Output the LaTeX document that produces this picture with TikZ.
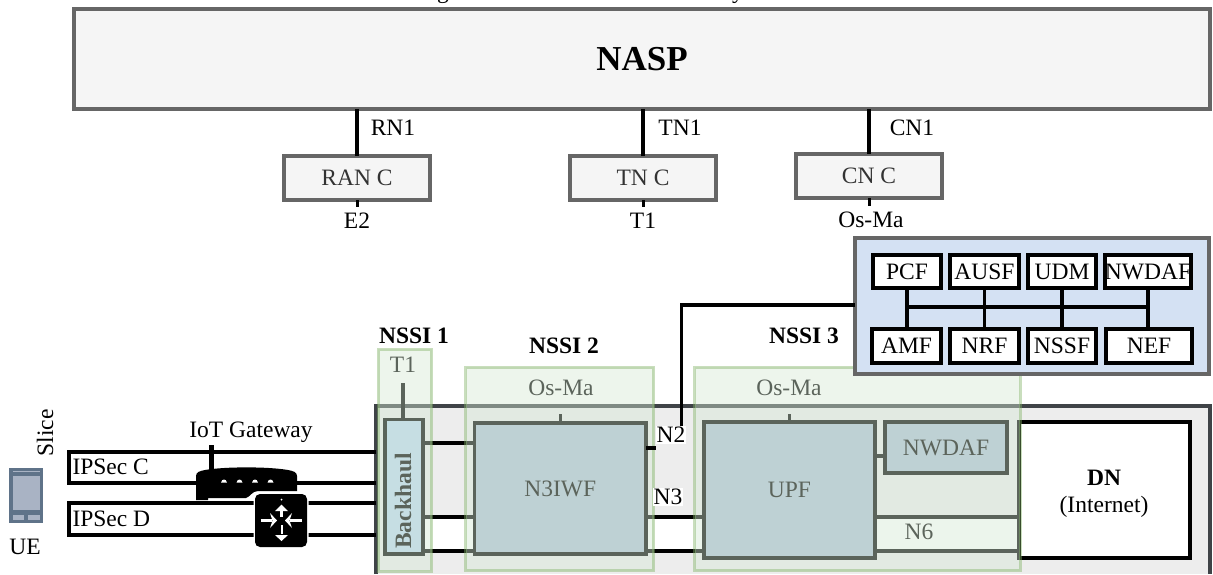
\documentclass[tikz,border=0pt]{standalone}
\usepackage{fontspec}
\setmainfont{Liberation Serif}
\definecolor{strokeg}{HTML}{666666}
\definecolor{fillg}{HTML}{F5F5F5}
\definecolor{textg}{HTML}{333333}
\definecolor{corefill}{HTML}{D4E1F3}
\definecolor{sitefill}{HTML}{EDEDED}
\definecolor{sitestroke}{HTML}{3F4347}
\definecolor{nffill}{HTML}{AEC0D4}
\definecolor{bhfill}{HTML}{BCD8F0}
\definecolor{ovfill}{HTML}{D5E8D4}
\definecolor{ovstroke}{HTML}{82B366}
\definecolor{uedark}{HTML}{5F7389}
\definecolor{uescreen}{HTML}{A9B3C4}
\newcommand{\bx}[7]{%
  \pgfmathsetmacro\cxv{(#3+#5)/2}\pgfmathsetmacro\cyv{(#4+#6)/2}%
  \pgfmathsetmacro\wv{#5-#3}\pgfmathsetmacro\hv{#6-#4}%
  \node[#1,minimum width=\wv pt,minimum height=\hv pt] (#2) at (\cxv,\cyv) {#7};}
\tikzset{
  base/.style={inner sep=0pt,outer sep=0pt,font=\fontsize{23.5}{28}\selectfont},
  lab/.style={base},
  boldlab/.style={base,font=\fontsize{23.5}{28}\selectfont\bfseries},
  mgmt/.style={base,draw=strokeg,fill=fillg,line width=3.6pt,text=textg},
  nf/.style={base,draw=black,fill=white,line width=3.8pt},
  nfwire/.style={draw=black,line width=3.6pt},
  wire/.style={draw=black,line width=3.6pt},
  thinwire/.style={draw=black,line width=3.2pt},
  stub/.style={draw=black,line width=3pt},
  dom/.style={base,draw=black,fill=nffill,line width=3.8pt},
  overlay/.style={base,draw=ovstroke,fill=ovfill,line width=3pt,opacity=.43},
  whitelab/.style={base,fill=white,inner xsep=1pt,inner ysep=1pt}
}
\begin{document}
\begin{tikzpicture}[x=1pt,y=-1pt]
\useasboundingbox (0,0) rectangle (1213,574);
\clip (0,0) rectangle (1213,574);
% clipped caption remains
\node[lab,anchor=base] (capg) at (443,-2) {g};
\node[lab,anchor=base] (capy) at (738,-2) {y};
% NASP and controllers
\bx{mgmt}{nasp}{74}{9}{1210}{109}{\fontsize{35}{40}\selectfont\bfseries\color{black}NASP}
\bx{mgmt}{ran}{284}{156}{430}{200}{RAN C}
\bx{mgmt}{tn}{570}{156}{716}{200}{TN C}
\bx{mgmt}{cn}{796}{154}{942}{198}{CN C}
\draw[thinwire] (nasp.south -| ran.north) -- (ran.north);
\draw[thinwire] (nasp.south -| tn.north) -- (tn.north);
\draw[thinwire] (nasp.south -| cn.north) -- (cn.north);
\coordinate (ranout) at (ran.south |- 0,207);
\coordinate (tnout) at (tn.south |- 0,207);
\coordinate (cnout) at (cn.south |- 0,206);
\draw[stub] (ran.south) -- (ranout);
\draw[stub] (tn.south) -- (tnout);
\draw[stub] (cn.south) -- (cnout);
\node[lab] (rn1) at (393,128) {RN1};
\node[lab] (tn1) at (680,128) {TN1};
\node[lab] (cn1) at (912,128) {CN1};
\node[lab] (e2) at (357,221) {E2};
\node[lab] (t1a) at (643,221) {T1};
\node[lab] (osa) at (871,220) {Os-Ma};
% site box (open at the bottom edge)
\fill[sitefill] (376,406) rectangle (1210,574);
\draw[draw=sitestroke,line width=3.4pt] (376,574) -- (376,406) -- (1210,406) -- (1210,574);
% pipes
\fill[white] (423,517) rectangle (474,551);
\fill[white] (646,517) rectangle (704,551);
\fill[white] (875,517) rectangle (1018,551);
\bx{base,fill=bhfill,draw=black,line width=3.8pt}{bh}{385}{419.5}{423}{554}{}
\node[boldlab,rotate=90] (bhtxt) at (403,501) {Backhaul};
\bx{dom}{n3iwf}{474.5}{423}{646}{554}{N3IWF}
\bx{dom}{upf}{704}{422}{875}{558}{UPF}
\bx{dom}{nwdaf}{885}{422}{1007}{473}{NWDAF}
\bx{base,draw=black,fill=white,line width=3.8pt}{dn}{1019}{422}{1190}{558}{}
\node[boldlab] (dnt) at (1104,478) {DN};
\node[lab] (dni) at (1104,507) {(Internet)};
% links between functions
\draw[wire] (bh.east |- 0,443) -- (n3iwf.west |- 0,443);
\draw[wire] (bh.east |- 0,517) -- (n3iwf.west |- 0,517);
\draw[wire] (bh.east |- 0,551) -- (n3iwf.west |- 0,551);
\draw[wire] (n3iwf.east |- 0,517) -- (upf.west |- 0,517);
\draw[wire] (n3iwf.east |- 0,551) -- (upf.west |- 0,551);
\draw[wire] (upf.east |- 0,517) -- (dn.west |- 0,517);
\draw[wire] (upf.east |- 0,551) -- (dn.west |- 0,551);
\draw[draw=black,line width=4pt] (upf.east |- 0,456) -- (nwdaf.west |- 0,456);
\coordinate (bhup) at (403,383);
\coordinate (n3up) at (560,414);
\coordinate (upfup) at (789,414);
\draw[wire] (bh.north -| bhup) -- (bhup);
\draw[stub] (n3iwf.north -| n3up) -- (n3up);
\draw[stub] (upf.north -| upfup) -- (upfup);
\node[lab] (t1b) at (403,365) {T1};
\node[lab] (os2) at (561,388) {Os-Ma};
\node[lab] (os3) at (789,388) {Os-Ma};
\node[lab] (n6) at (919,532) {N6};
% slice overlays
\bx{overlay}{nssi1}{378}{349}{431.5}{571}{}
\bx{overlay}{nssi2}{465.5}{367}{653.5}{570.5}{}
\bx{overlay}{nssi3}{694.5}{367}{1020}{570.5}{}
\node[boldlab] (n1) at (414,336) {NSSI 1};
\node[boldlab] (n2t) at (564,346) {NSSI 2};
\node[boldlab] (n3t) at (804,336) {NSSI 3};
% N2 / N3 labels
\node[whitelab] (n2lab) at (671,435) {N2};
\node[whitelab] (n3lab) at (668,497) {N3};
\draw[wire] (n3iwf.east |- 0,448) -- (n2lab.west |- 0,448);
% core
\bx{base,draw=strokeg,fill=corefill,line width=3.4pt}{core}{855}{238}{1209}{374}{}
\bx{nf}{pcf}{873}{255}{941}{288}{PCF}
\bx{nf}{ausf}{950}{255}{1019}{288}{AUSF}
\bx{nf}{udm}{1028}{255}{1096}{288}{UDM}
\bx{nf}{nwd}{1105}{255}{1191}{288}{NWDAF}
\bx{nf}{amf}{872}{329}{941}{363}{AMF}
\bx{nf}{nrf}{950}{329}{1019}{363}{NRF}
\bx{nf}{nssf}{1028}{329}{1096}{363}{NSSF}
\bx{nf}{nef}{1106}{329}{1192}{363}{NEF}
\coordinate (busl) at (906.7,307);
\coordinate (busr) at (1148,307);
\draw[nfwire] (busl) -- (busr);
\draw[nfwire] (pcf.south -| busl) -- (amf.north -| busl);
\draw[nfwire] (ausf.south) -- (nrf.north);
\draw[nfwire] (udm.south) -- (nssf.north);
\draw[nfwire] (nwd.south -| busr) -- (nef.north -| busr);
\coordinate (bend) at (681.5,305);
\draw[wire] (core.west |- bend) -- (bend) -- (bend |- n2lab.north);
% IPSec tunnels
\draw[wire] (376,452) -- (69,452) -- (69,483) -- (376,483);
\draw[wire] (376,503) -- (69,503) -- (69,535) -- (376,535);
\node[lab,anchor=west] (ipc) at (72.5,467) {IPSec C};
\node[lab,anchor=west] (ipd) at (72.5,519) {IPSec D};
\node[lab,rotate=90] (slice) at (45,433) {Slice};
\node[lab] (ue) at (25,547) {UE};
% UE icon
\fill[uedark] (9,468) rectangle (43,523);
\fill[uescreen] (12.5,476) rectangle (39.5,510);
\fill[uescreen] (12.5,470.5) rectangle (39.5,472);
\fill[uescreen] (12.5,515) rectangle (23.5,520);
\fill[uescreen] (28,515) rectangle (39.5,520);
% gateway icon
\fill[black] (208.5,445) rectangle (213.5,470);
\fill[black] (196,476) .. controls (196,472) and (200,471) .. (205,470)
  .. controls (225,466.5) and (268,466.5) .. (288,470)
  .. controls (293,471) and (297,472) .. (297,476)
  -- (297,491) -- (258,491) .. controls (252,491) and (250,497) .. (246,498)
  -- (208,498) -- (208,500) -- (196,500) -- cycle;
\foreach \dx in {224,239.5,255,270.5}{
  \fill[white] (\dx-3,482.5) .. controls (\dx-2,478.5) and (\dx+2,478.5) .. (\dx+3,482.5) -- cycle;
}
\node[whitelab] (iot) at (251,432) {IoT Gateway};
% router icon
\draw[white,line width=3pt,rounded corners=5pt] (255,494) rectangle (307,547);
\fill[black,rounded corners=5pt] (255,494) rectangle (307,547);
\begin{scope}[white,line width=3pt,line cap=butt]
\draw (260.5,520.5) -- (272,520.5);
\draw (301.5,520.5) -- (290,520.5);
\fill (277,520.5) -- (270,513) -- (272.5,520.5) -- (270,528) -- cycle;
\fill (285,520.5) -- (292,513) -- (289.5,520.5) -- (292,528) -- cycle;
\draw (281.5,510) -- (281.5,517);
\fill (281.5,504.5) -- (275,511) -- (288,511) -- cycle;
\fill (281.5,499.5) circle (1);
\draw[line width=2pt] (281.5,525) -- (281.5,534);
\fill (281.5,541) -- (275,535) -- (288,535) -- cycle;
\end{scope}
\end{tikzpicture}
\end{document}
